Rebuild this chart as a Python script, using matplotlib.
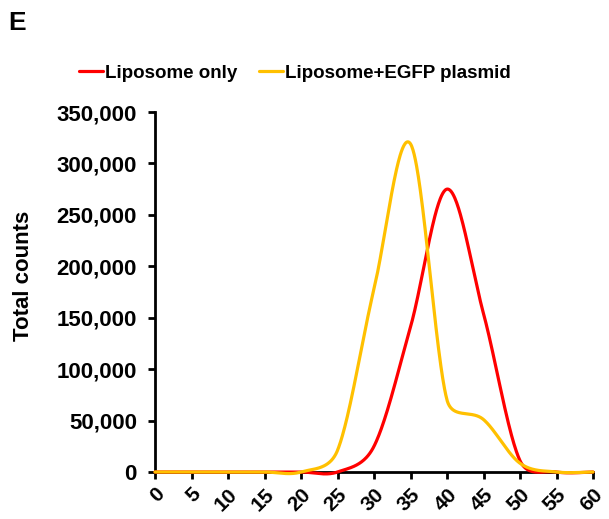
import numpy as np
import matplotlib
matplotlib.use("Agg")
import matplotlib.pyplot as plt
from matplotlib.ticker import FuncFormatter

x_vals = [0, 5, 10, 15, 20, 25, 30, 35, 40, 45, 50, 55, 60]
liposome_only = [0, 0, 0, 0, 0, 0, 25000, 141000, 275000, 154000, 11000, 0, 0]
liposome_egfp = [0, 0, 0, 0, 0, 21000, 178000, 319000, 70000, 51000, 8500, 0, 0]
y_ticks = [0, 50000, 100000, 150000, 200000, 250000, 300000, 350000]
x_ticks = [0, 5, 10, 15, 20, 25, 30, 35, 40, 45, 50, 55, 60]

plt.rcParams['font.family'] = ['Liberation Sans', 'DejaVu Sans']
plt.rcParams['font.weight'] = 'bold'

AX_W, AX_H = 438.0, 360.0
XMAX, YMAX = 60.0, 350000.0


def smooth(xs, ys, n=60):
    """Excel-like smoothed line: Bezier arms = neighbour chord / 6, capped at half the segment."""
    P = np.column_stack([np.asarray(xs, float) * AX_W / XMAX,
                         np.asarray(ys, float) * AX_H / YMAX])
    m = len(P)
    t = np.linspace(0, 1, n, endpoint=False)[:, None]
    res = []
    for i in range(m - 1):
        p0 = P[i - 1] if i > 0 else P[i]
        p1, p2 = P[i], P[i + 1]
        p3 = P[i + 2] if i + 2 < m else P[i + 1]
        d12 = np.linalg.norm(p2 - p1)
        a1 = (p2 - p0) / 6
        a2 = (p3 - p1) / 6
        n1, n2 = np.linalg.norm(a1), np.linalg.norm(a2)
        if n1 > d12 / 2 and n1 > 0:
            a1 = a1 * (d12 / 2) / n1
        if n2 > d12 / 2 and n2 > 0:
            a2 = a2 * (d12 / 2) / n2
        b1 = p1 + a1
        b2 = p2 - a2
        pts = (1 - t) ** 3 * p1 + 3 * (1 - t) ** 2 * t * b1 + 3 * (1 - t) * t ** 2 * b2 + t ** 3 * p2
        res.append(pts)
    res.append(P[-1][None, :])
    R = np.vstack(res)
    return R[:, 0] * XMAX / AX_W, R[:, 1] * YMAX / AX_H


fig = plt.figure(figsize=(6.09, 5.19), dpi=100)
ax = fig.add_axes([155 / 609, 1 - 472 / 519, (593 - 155) / 609, (472 - 112) / 519])

sx, sy = smooth(x_vals, liposome_only)
ax.plot(sx, sy, color='#FF0000', lw=2.3, label='Liposome only', solid_capstyle='round', clip_on=False)
sx, sy = smooth(x_vals, liposome_egfp)
ax.plot(sx, sy, color='#FFC000', lw=2.3, label='Liposome+EGFP plasmid', solid_capstyle='round', clip_on=False)

ax.set_xlim(0, 60)
ax.set_ylim(0, 350000)
ax.set_xticks(x_ticks)
ax.set_yticks(y_ticks)
ax.yaxis.set_major_formatter(FuncFormatter(lambda v, p: f"{int(v):,}"))
for s in ['top', 'right']:
    ax.spines[s].set_visible(False)
for s in ['left', 'bottom']:
    ax.spines[s].set_linewidth(2)
    ax.spines[s].set_zorder(0)
ax.tick_params(direction='out', length=5, width=2)
ax.tick_params(axis='y', pad=8, labelsize=16)
ax.tick_params(axis='x', pad=4, labelsize=15)
for lab in ax.get_xticklabels():
    lab.set_rotation(45)
    lab.set_ha('right')
    lab.set_rotation_mode('anchor')
    lab.set_fontweight('bold')
for lab in ax.get_yticklabels():
    lab.set_fontweight('bold')

fig.text(24 / 609, 1 - 276 / 519, 'Total counts', rotation=90, ha='center', va='center',
         fontsize=16, fontweight='bold')
fig.text(8 / 609, 1 - 23 / 519, 'E', ha='left', va='center', fontsize=19, fontweight='bold')

fig.legend(loc='center', bbox_to_anchor=(295 / 609, 1 - 73 / 519), ncol=2, frameon=False,
           handlelength=1.3, handletextpad=0.1, columnspacing=1.15,
           prop={'size': 13.5, 'weight': 'bold'})

fig.savefig('out.png', dpi=100)
